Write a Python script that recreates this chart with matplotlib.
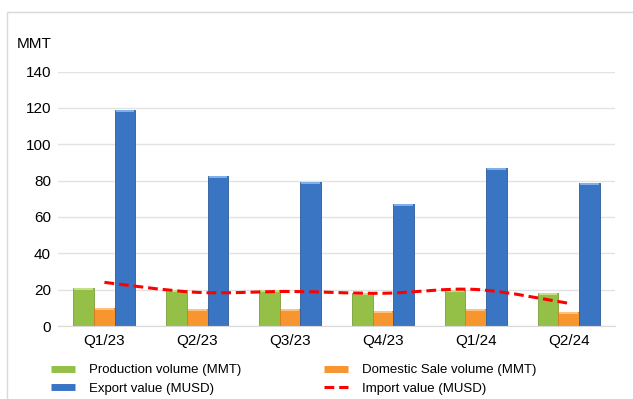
import numpy as np
import matplotlib.pyplot as plt
from matplotlib.path import Path
from matplotlib.patches import PathPatch, Rectangle
from matplotlib.lines import Line2D

plt.rcParams['font.family'] = ['Liberation Sans', 'DejaVu Sans']

# Quarterly figures
quarters = ['Q1/23', 'Q2/23', 'Q3/23', 'Q4/23', 'Q1/24', 'Q2/24']
production = [20.9, 19.8, 19.8, 18.0, 19.8, 18.3]
domestic_sale = [10.1, 9.4, 9.5, 8.4, 9.2, 7.5]
export_value = [118.8, 82.5, 79.2, 66.9, 87.0, 78.5]
import_value = [24.0, 18.5, 19.0, 18.0, 20.1, 12.5]

green = '#94c047'
orange = '#f7962f'
blue = '#3a75c4'
red = '#ff0000'


def smooth_path(xs, ys):
    # Bezier segments with Catmull-Rom control points (spreadsheet-style smoothing)
    pts = np.column_stack([xs, ys]).astype(float)
    n = len(pts)
    verts = [pts[0]]
    codes = [Path.MOVETO]
    for i in range(n - 1):
        p0 = pts[i - 1] if i > 0 else pts[i]
        p1, p2 = pts[i], pts[i + 1]
        p3 = pts[i + 2] if i + 2 < n else pts[i + 1]
        c1 = p1 + (p2 - p0) / 6.0
        c2 = p2 - (p3 - p1) / 6.0
        verts += [c1, c2, p2]
        codes += [Path.CURVE4] * 3
    return Path(verts, codes)


fig = plt.figure(figsize=(6.33, 3.99), dpi=100)
ax = fig.add_axes([58 / 633, 73 / 399, 557 / 633, 254.5 / 399])

x = np.arange(len(quarters))
w = 0.223
ax.bar(x - w, production, w, color=green, edgecolor='#7a9f3a', linewidth=0.6, zorder=3)
ax.bar(x, domestic_sale, w, color=orange, edgecolor='#d97a1c', linewidth=0.6, zorder=3)
ax.bar(x + w, export_value, w, color=blue, edgecolor='#2c5c9c', linewidth=0.6, zorder=3)

# light cap on top of each bar
for off, vals, cap in [(-1, production, '#c6e08a'), (0, domestic_sale, '#ffc27a'),
                       (1, export_value, '#7fb0ec')]:
    ax.bar(x + off * w, [1.1] * len(vals), w * 0.9, bottom=np.array(vals) - 1.1,
           color=cap, linewidth=0, zorder=4)

line = PathPatch(smooth_path(x, import_value), fill=False, edgecolor=red,
                 linewidth=2.2, linestyle=(0, (3.2, 1.6)), zorder=5)
ax.add_patch(line)

ax.set_xlim(-0.5, len(quarters) - 0.5)
ax.set_ylim(0, 140)
ax.set_yticks(np.arange(0, 141, 20))
ax.set_xticks(x)
ax.set_xticklabels(quarters)
ax.tick_params(axis='both', length=0, labelsize=11, colors='black')
ax.tick_params(axis='y', pad=5)
ax.tick_params(axis='x', pad=6)
ax.grid(axis='y', color='#e3e3e3', linewidth=1, zorder=0)
for s in ['top', 'right', 'left']:
    ax.spines[s].set_visible(False)
ax.spines['bottom'].set_color('#d9d9d9')
ax.spines['bottom'].set_zorder(6)

fig.text(52 / 633, 1 - 44 / 399, 'MMT', fontsize=11, va='center', ha='right')

handles = [
    Line2D([], [], color=green, linewidth=5, solid_capstyle='butt'),
    Line2D([], [], color=blue, linewidth=5, solid_capstyle='butt'),
    Line2D([], [], color=orange, linewidth=5, solid_capstyle='butt'),
    Line2D([], [], color=red, linewidth=2.2, linestyle=(0, (3.2, 1.6))),
]
labels = ['Production volume (MMT)', 'Export value (MUSD)',
          'Domestic Sale volume (MMT)', 'Import value (MUSD)']
fig.legend(handles, labels, ncol=2, frameon=False, fontsize=9.5,
           loc='upper left', bbox_to_anchor=(51 / 633, 1 - 364 / 399),
           handlelength=1.8, handletextpad=1.05, columnspacing=6.3,
           labelspacing=0.5, borderaxespad=0, borderpad=0)

# chart area border
fig.add_artist(Rectangle((7.5 / 633, -0.05), 1.2, 1 - 11.5 / 399 + 0.05,
                         transform=fig.transFigure, fill=False,
                         edgecolor='#d9d9d9', linewidth=1))

fig.savefig('out.png', dpi=100)
